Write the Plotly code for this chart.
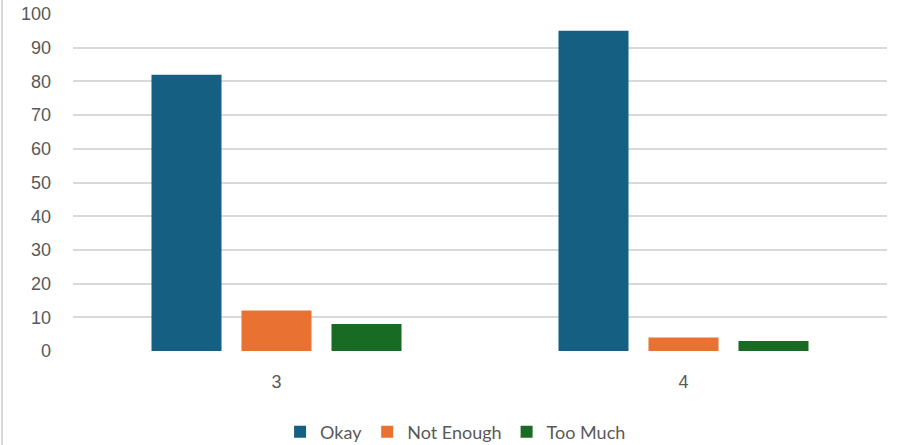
import plotly.graph_objects as go

categories = ["3", "4"]
series_names = ["Okay", "Not Enough", "Too Much"]
okay = [82, 95]
not_enough = [12, 4]
too_much = [8, 3]
colors = ["#156082", "#E97132", "#196B24"]

fig = go.Figure()
for name, vals, col in zip(series_names, [okay, not_enough, too_much], colors):
    fig.add_trace(go.Bar(x=categories, y=vals, name=name, marker_color=col,
                         marker_line_width=0))

L, R, T, B = 73, 13, 14, 94
W, H = 900, 445
pw = W - L - R
ph = H - T - B
fig.update_layout(
    width=W, height=H,
    margin=dict(l=L, r=R, t=T, b=B, autoexpand=False),
    barmode="group", bargap=0.3366, bargroupgap=0.222,
    plot_bgcolor="white", paper_bgcolor="white",
    font=dict(family="Liberation Sans, Arial", size=18, color="#595959"),
    showlegend=True,
    legend=dict(orientation="h", x=0.47, xanchor="center", y=-(432 - 351) / ph, yanchor="middle",
                font=dict(family="Lato", size=18, color="#595959"),
                itemwidth=30, traceorder="normal"),
    xaxis=dict(type="category", showgrid=False, zeroline=False, showline=False,
               ticks="", tickfont=dict(size=18, color="#595959"), ticklabelstandoff=18),
    yaxis=dict(range=[0, 100], dtick=10, showgrid=True, gridcolor="#D9D9D9",
               gridwidth=1.5, zeroline=False, showline=False, ticks="",
               tickfont=dict(size=18, color="#595959"), ticklabelstandoff=21),
)
fig.add_shape(type="line", xref="paper", yref="paper",
              x0=-(L - 2) / pw, x1=-(L - 2) / pw, y0=-B / ph, y1=1 + T / ph,
              line=dict(color="#D9D9D9", width=2))
fig.write_html("out.html", config={"displayModeBar": False},
               post_script="document.body.style.margin='0';")
